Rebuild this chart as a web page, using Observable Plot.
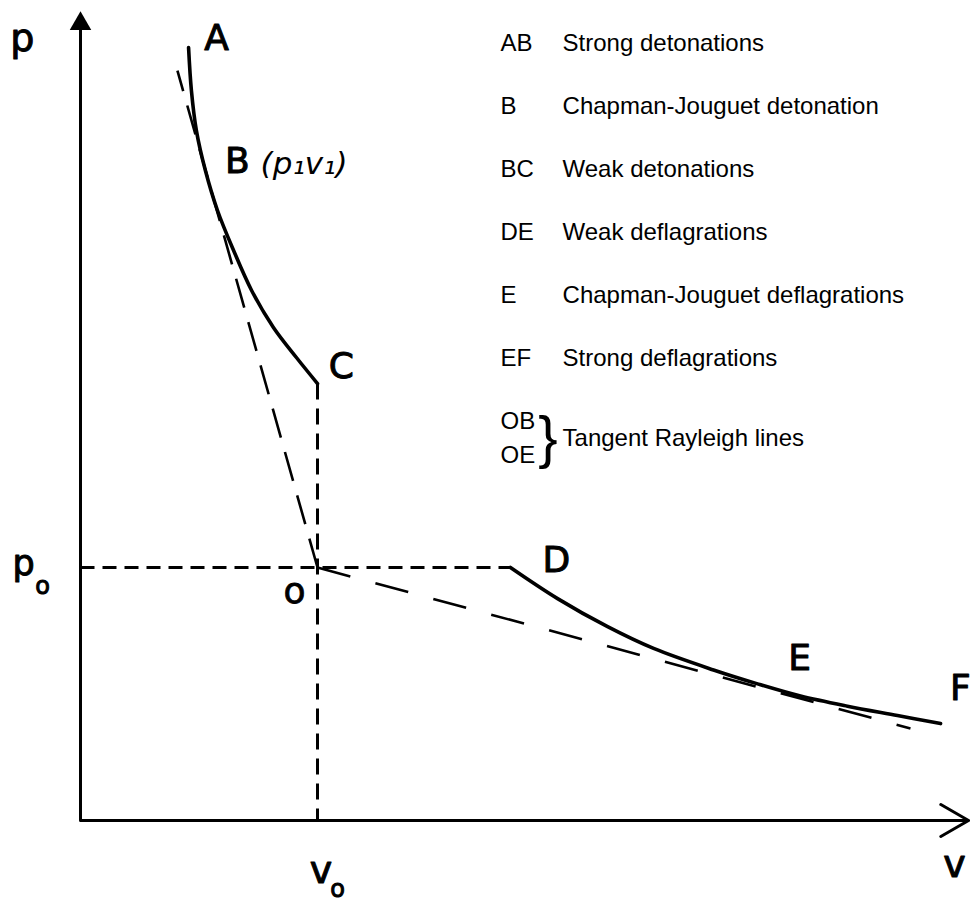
<!DOCTYPE html>
<html>
<head>
<meta charset="utf-8">
<script src="https://cdn.jsdelivr.net/npm/d3@7"></script>
<script src="https://cdn.jsdelivr.net/npm/@observablehq/plot@0.6"></script>
<style>
  html, body { margin: 0; padding: 0; background: #fff; }
  #chart svg { display: block; }
</style>
</head>
<body>
<div id="chart"></div>
<script>
// ---- Data (v = specific volume, p = pressure; v0 = 1, p0 = 1) ----
// Upper branch of the Hugoniot curve: A -> B -> C
const upperV = [0.456, 0.468, 0.489, 0.527, 0.578, 0.646, 0.722, 0.814, 0.911, 1.0];
const upperP = [3.055, 2.885, 2.727, 2.569, 2.411, 2.253, 2.095, 1.949, 1.830, 1.727];
// Lower branch: D -> E -> F
const lowerV = [1.814, 2.013, 2.224, 2.418, 2.671, 2.857, 3.038, 3.236, 3.447, 3.629];
const lowerP = [1.0, 0.877, 0.766, 0.680, 0.595, 0.540, 0.492, 0.452, 0.415, 0.383];
// Initial state O and reference lines
const originV = 1.0, originP = 1.0;
const pointCV = 1.0, pointCP = 1.727;
const pointDV = 1.814;
const rayleighBEndV = 0.409, rayleighBEndP = 2.964;
const rayleighEEndV = 3.502, rayleighEEndP = 0.364;
const axisTopP = 3.194, axisEndV = 3.747;

// Point labels
const pointNames = ["A", "B", "C", "D", "E", "F"];
const pointLabelV = [0.574, 0.662, 1.101, 2.008, 3.034, 3.713];
const pointLabelP = [3.091, 2.605, 1.794, 1.028, 0.640, 0.522];

// Legend
const legendCodes = ["AB", "B", "BC", "DE", "E", "EF"];
const legendLabels = ["Strong detonations", "Chapman-Jouguet detonation", "Weak detonations",
  "Weak deflagrations", "Chapman-Jouguet deflagrations", "Strong deflagrations"];
const rayleighCodes = ["OB", "OE"];
const rayleighLabel = "Tangent Rayleigh lines";

// ---- Build tables ----
const upper = upperV.map((v, i) => ({v, p: upperP[i]}));
const lower = lowerV.map((v, i) => ({v, p: lowerP[i]}));
const labels = pointNames.map((t, i) => ({t, v: pointLabelV[i], p: pointLabelP[i]}));

const legendTop = 3.071, legendStep = 0.249;
const codeV = 1.772, textV = 2.034;
const legendRows = legendCodes.map((c, i) => ({c, t: legendLabels[i], p: legendTop - i * legendStep}));
const rayP = legendTop - 6 * legendStep - 0.067;
const rayRows = rayleighCodes.map((c, i) => ({c, p: rayP + 0.066 - i * 0.132}));

const sans = "Liberation Sans, Arial, sans-serif";
const letterFont = "DejaVu Sans, Liberation Sans, sans-serif";

const chart = Plot.plot({
  width: 970,
  height: 903,
  margin: 0,
  style: {background: "#fff", color: "#000"},
  x: {domain: [-80 / 237, 890 / 237], range: [0, 970], axis: null},
  y: {domain: [-83 / 253, 820 / 253], range: [903, 0], axis: null},
  marks: [
    // axes
    Plot.arrow([{x1: 0, y1: 0, x2: axisEndV, y2: 0}], {x1: "x1", y1: "y1", x2: "x2", y2: "y2", stroke: "#000", strokeWidth: 3, headLength: 16, bend: 0}),
    Plot.link([{x1: 0, y1: 0, x2: 0, y2: axisTopP - 0.04}], {x1: "x1", y1: "y1", x2: "x2", y2: "y2", stroke: "#000", strokeWidth: 3}),
    Plot.dot([{v: 0, p: axisTopP - 0.045}], {x: "v", y: "p", symbol: "triangle", r: 8, fill: "#000", stroke: "none"}),
    // dashed reference lines
    Plot.link([{x1: 0, y1: originP, x2: pointDV, y2: originP}], {x1: "x1", y1: "y1", x2: "x2", y2: "y2", stroke: "#000", strokeWidth: 3, strokeDasharray: "14,8"}),
    Plot.link([{x1: pointCV, y1: pointCP, x2: pointCV, y2: 0}], {x1: "x1", y1: "y1", x2: "x2", y2: "y2", stroke: "#000", strokeWidth: 3, strokeDasharray: "16,9"}),
    Plot.link([{x1: originV, y1: originP, x2: rayleighBEndV, y2: rayleighBEndP}], {x1: "x1", y1: "y1", x2: "x2", y2: "y2", stroke: "#000", strokeWidth: 2.6, strokeDasharray: "30,15"}),
    Plot.link([{x1: originV, y1: originP, x2: rayleighEEndV, y2: rayleighEEndP}], {x1: "x1", y1: "y1", x2: "x2", y2: "y2", stroke: "#000", strokeWidth: 2.6, strokeDasharray: "34,26"}),
    // Hugoniot branches
    Plot.line(upper, {x: "v", y: "p", curve: "catmull-rom", stroke: "#000", strokeWidth: 3.6, strokeLinecap: "round"}),
    Plot.line(lower, {x: "v", y: "p", curve: "catmull-rom", stroke: "#000", strokeWidth: 3.6, strokeLinecap: "round"}),
    // point labels
    Plot.text(labels, {x: "v", y: "p", text: "t", fontFamily: letterFont, fontSize: 36, fill: "#000", stroke: "#000", strokeWidth: 1}),
    Plot.text([{v: 0.760, p: 2.595}], {x: "v", y: "p", text: () => "(p\u2081v\u2081)", textAnchor: "start", fontFamily: letterFont, fontStyle: "italic", fontSize: 31, fill: "#000"}),
    Plot.text([{v: 0.903, p: 0.907}], {x: "v", y: "p", text: () => "o", fontFamily: letterFont, fontSize: 36, fill: "#000", stroke: "#000", strokeWidth: 0.8}),
    // axis labels
    Plot.text([{v: -0.245, p: 3.089}], {x: "v", y: "p", text: () => "p", fontFamily: letterFont, fontSize: 38, fill: "#000", stroke: "#000", strokeWidth: 1}),
    Plot.text([{v: -0.240, p: 1.014}], {x: "v", y: "p", text: () => "p", fontFamily: letterFont, fontSize: 35, fill: "#000", stroke: "#000", strokeWidth: 1}),
    Plot.text([{v: -0.160, p: 0.925}], {x: "v", y: "p", text: () => "o", fontFamily: letterFont, fontSize: 24, fill: "#000", stroke: "#000", strokeWidth: 1}),
    Plot.text([{v: 3.688, p: -0.177}], {x: "v", y: "p", text: () => "v", fontFamily: letterFont, fontSize: 38, fill: "#000", stroke: "#000", strokeWidth: 1}),
    Plot.text([{v: 1.015, p: -0.200}], {x: "v", y: "p", text: () => "v", fontFamily: letterFont, fontSize: 38, fill: "#000", stroke: "#000", strokeWidth: 1}),
    Plot.text([{v: 1.085, p: -0.272}], {x: "v", y: "p", text: () => "o", fontFamily: letterFont, fontSize: 24, fill: "#000", stroke: "#000", strokeWidth: 1}),
    // legend
    Plot.text(legendRows, {x: () => codeV, y: "p", text: "c", textAnchor: "start", fontFamily: sans, fontSize: 24, fill: "#000"}),
    Plot.text(legendRows, {x: () => textV, y: "p", text: "t", textAnchor: "start", fontFamily: sans, fontSize: 24, fill: "#000"}),
    Plot.text(rayRows, {x: () => codeV, y: "p", text: "c", textAnchor: "start", fontFamily: sans, fontSize: 24, fill: "#000"}),
    Plot.text([{p: rayP}], {x: () => 1.972, y: "p", text: () => "}", fontFamily: sans, fontSize: 58, fontWeight: 300, fill: "#000"}),
    Plot.text([{p: rayP}], {x: () => textV, y: "p", text: () => rayleighLabel, textAnchor: "start", fontFamily: sans, fontSize: 24, fill: "#000"})
  ]
});
document.getElementById("chart").append(chart);
</script>
</body>
</html>
